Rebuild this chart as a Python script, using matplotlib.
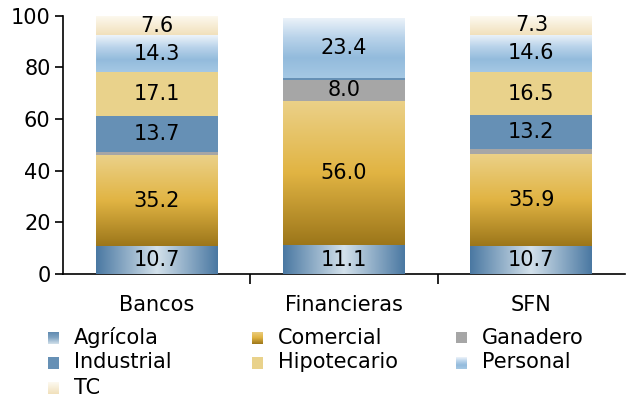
import numpy as np
import matplotlib
matplotlib.use('Agg')
import matplotlib.pyplot as plt
from matplotlib.colors import LinearSegmentedColormap

# data
categories = ['Bancos', 'Financieras', 'SFN']
series = ['Agrícola', 'Comercial', 'Ganadero', 'Industrial', 'Hipotecario', 'Personal', 'TC']
agricola = [10.7, 11.1, 10.7]
comercial = [35.2, 56.0, 35.9]
ganadero = [1.4, 8.0, 1.8]
industrial = [13.7, 0.6, 13.2]
hipotecario = [17.1, 0.0, 16.5]
personal = [14.3, 23.4, 14.6]
tc = [7.6, 0.0, 7.3]
values = [agricola, comercial, ganadero, industrial, hipotecario, personal, tc]

# fills: (colors, direction) -- 'h' horizontal gradient, 'v' vertical (bottom->top), None flat
fills = {
    'Agrícola': (['#4a78a2', '#d3e1eb', '#4a78a2'], 'h'),
    'Comercial': (['#9c761a', '#e1b443', '#ebd189'], 'v'),
    'Ganadero': (['#a6a6a6'], None),
    'Industrial': (['#6690b5'], None),
    'Hipotecario': (['#e9d28b'], None),
    'Personal': (['#a5c8e4', '#93bbdc', '#b9d3ea', '#eef4fa'], 'v'),
    'TC': (['#f1e0bb', '#fdfaf1'], 'v'),
}
# legend swatch for Agrícola is a simple top-to-bottom fade
legend_fills = dict(fills)
legend_fills['Agrícola'] = (['#d3e1eb', '#7fa3c2', '#5b86ad'], 'v')

FS = 15
plt.rcParams['font.family'] = 'DejaVu Sans'

fig = plt.figure(figsize=(6.26, 4.0), dpi=100)
ax = fig.add_axes([63 / 626, 1 - 274 / 400, 562 / 626, (274 - 15.7) / 400])

x = np.arange(len(categories))
grad = np.linspace(0, 1, 256)


def gradient_img(colors, direction):
    cmap = LinearSegmentedColormap.from_list('g', colors)
    if direction == 'h':
        return grad[None, :], cmap
    return grad[::-1][:, None], cmap


bottom = np.zeros(len(categories))
for name, vals in zip(series, values):
    vals = np.array(vals)
    colors, direction = fills[name]
    bars = ax.bar(x, vals, 0.65, bottom=bottom, color=colors[len(colors) // 2],
                  linewidth=0, zorder=2)
    if direction is not None:
        img, cmap = gradient_img(colors, direction)
        for p in bars.patches:
            if p.get_height() <= 0:
                continue
            im = ax.imshow(img, cmap=cmap, aspect='auto', interpolation='bilinear',
                           extent=[p.get_x(), p.get_x() + p.get_width(),
                                   p.get_y(), p.get_y() + p.get_height()],
                           zorder=3)
            im.set_clip_path(p)
    for xi, b, v in zip(x, bottom, vals):
        if v >= 5:
            ax.text(xi, b + v / 2, f'{v:.1f}', ha='center', va='center',
                    fontsize=FS, color='black', zorder=5)
    bottom += vals

ax.set_xlim(-0.5, 2.5)
ax.set_ylim(0, 100)
ax.set_yticks(range(0, 101, 20))
ax.tick_params(axis='y', labelsize=FS, length=6, width=1.2, direction='out', pad=3)
ax.set_xticks(x)
ax.set_xticklabels(categories, fontsize=FS)
ax.set_xticks([0.5, 1.5], minor=True)
ax.tick_params(axis='x', which='major', length=0, pad=15)
ax.tick_params(axis='x', which='minor', length=7, width=1.2, direction='out')
for s in ['top', 'right']:
    ax.spines[s].set_visible(False)
for s in ['left', 'bottom']:
    ax.spines[s].set_linewidth(1.2)
    ax.spines[s].set_color('black')

# legend drawn by hand to mimic fixed column layout
order = ['Agrícola', 'Comercial', 'Ganadero', 'Industrial', 'Hipotecario', 'Personal', 'TC']
col_x = [48, 252, 456]
row_y = [337.5, 362.5, 387.5]
for i, name in enumerate(order):
    c, r = i % 3, i // 3
    mx, my = col_x[c], row_y[r]
    w, h = 11, 12
    lax = fig.add_axes([mx / 626, 1 - (my + h / 2) / 400, w / 626, h / 400])
    colors, direction = legend_fills[name]
    if direction is None:
        lax.imshow([[0]], cmap=LinearSegmentedColormap.from_list('f', [colors[0], colors[0]]),
                   aspect='auto')
    else:
        img, cmap = gradient_img(colors, direction)
        lax.imshow(img, cmap=cmap, aspect='auto', interpolation='bilinear')
    lax.axis('off')
    fig.text((mx + 25.5) / 626, 1 - my / 400, name, fontsize=FS, va='center', ha='left')

fig.savefig('out.png', dpi=100)
